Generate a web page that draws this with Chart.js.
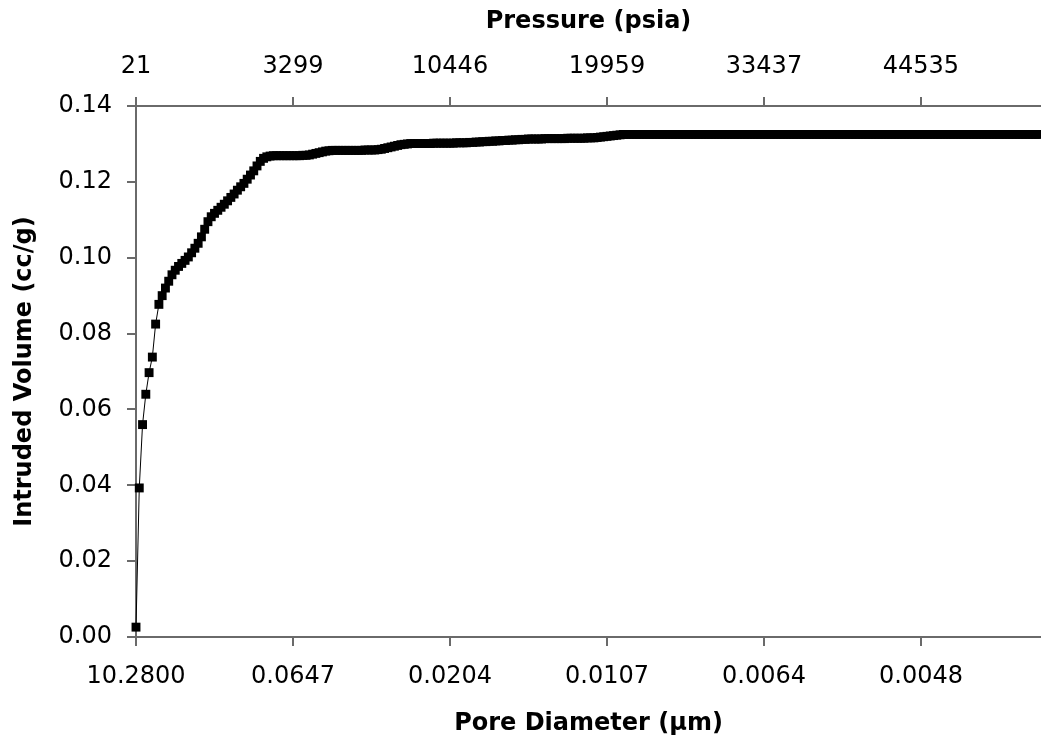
<!DOCTYPE html>
<html>
<head>
<meta charset="utf-8">
<title>Pore volume intrusion</title>
<script src="https://cdn.jsdelivr.net/npm/chart.js@4.4.0/dist/chart.umd.min.js"></script>
<style>
  html, body { margin: 0; padding: 0; background: #ffffff; overflow: hidden; }
  #wrap { width: 1041px; height: 740px; }
  canvas { display: block; }
</style>
</head>
<body>
<div id="wrap"><canvas id="poreChart" width="1041" height="740"></canvas></div>
<script>
// tick labels, one every 48 points
var diameterLabels = ['10.2800', '0.0647', '0.0204', '0.0107', '0.0064', '0.0048'];
var pressureLabels = ['21', '3299', '10446', '19959', '33437', '44535'];
var pointsPerLabel = 48;

// intruded volume (cc/g), one value per measured point
var intrudedVolume = [
    0.0026, 0.0393, 0.0560, 0.0640, 0.0697, 0.0738, 0.0825, 0.0877, 0.0900, 0.0920,
    0.0938, 0.0955, 0.0967, 0.0977, 0.0985, 0.0993, 0.1002, 0.1013, 0.1025, 0.1038,
    0.1055, 0.1075, 0.1095, 0.1108, 0.1117, 0.1125, 0.1133, 0.1141, 0.1150, 0.1159,
    0.1168, 0.1178, 0.1187, 0.1196, 0.1207, 0.1218, 0.1229, 0.1242, 0.1254, 0.1262,
    0.1266, 0.1268, 0.1269, 0.1269, 0.1269, 0.1269, 0.1269, 0.1269, 0.1269, 0.1269,
    0.1269, 0.1270, 0.1270, 0.1271, 0.1273, 0.1275, 0.1277, 0.1279, 0.1281, 0.1282,
    0.1283, 0.1283, 0.1283, 0.1283, 0.1283, 0.1283, 0.1283, 0.1283, 0.1283, 0.1283,
    0.1284, 0.1284, 0.1284, 0.1284, 0.1285, 0.1286, 0.1288, 0.1290, 0.1292, 0.1294,
    0.1296, 0.1298, 0.1299, 0.1300, 0.1301, 0.1301, 0.1301, 0.1301, 0.1301, 0.1301,
    0.1301, 0.1302, 0.1302, 0.1302, 0.1302, 0.1302, 0.1302, 0.1302, 0.1303, 0.1303,
    0.1303, 0.1303, 0.1304, 0.1304, 0.1305, 0.1305, 0.1306, 0.1306, 0.1307, 0.1307,
    0.1308, 0.1308, 0.1309, 0.1309, 0.1310, 0.1310, 0.1311, 0.1311, 0.1312, 0.1312,
    0.1313, 0.1313, 0.1313, 0.1313, 0.1313, 0.1314, 0.1314, 0.1314, 0.1314, 0.1314,
    0.1314, 0.1314, 0.1315, 0.1315, 0.1315, 0.1315, 0.1315, 0.1315, 0.1316, 0.1316,
    0.1316, 0.1317, 0.1318, 0.1319, 0.1320, 0.1321, 0.1322, 0.1323, 0.1324, 0.1325,
    0.1325, 0.1325, 0.1325, 0.1325, 0.1325, 0.1325, 0.1325, 0.1325, 0.1325, 0.1325,
    0.1325, 0.1325, 0.1325, 0.1325, 0.1325, 0.1325, 0.1325, 0.1325, 0.1325, 0.1325,
    0.1325, 0.1325, 0.1325, 0.1325, 0.1325, 0.1325, 0.1325, 0.1325, 0.1325, 0.1325,
    0.1325, 0.1325, 0.1325, 0.1325, 0.1325, 0.1325, 0.1325, 0.1325, 0.1325, 0.1325,
    0.1325, 0.1325, 0.1325, 0.1325, 0.1325, 0.1325, 0.1325, 0.1325, 0.1325, 0.1325,
    0.1325, 0.1325, 0.1325, 0.1325, 0.1325, 0.1325, 0.1325, 0.1325, 0.1325, 0.1325,
    0.1325, 0.1325, 0.1325, 0.1325, 0.1325, 0.1325, 0.1325, 0.1325, 0.1325, 0.1325,
    0.1325, 0.1325, 0.1325, 0.1325, 0.1325, 0.1325, 0.1325, 0.1325, 0.1325, 0.1325,
    0.1325, 0.1325, 0.1325, 0.1325, 0.1325, 0.1325, 0.1325, 0.1325, 0.1325, 0.1325,
    0.1325, 0.1325, 0.1325, 0.1325, 0.1325, 0.1325, 0.1325, 0.1325, 0.1325, 0.1325,
    0.1325, 0.1325, 0.1325, 0.1325, 0.1325, 0.1325, 0.1325, 0.1325, 0.1325, 0.1325,
    0.1325, 0.1325, 0.1325, 0.1325, 0.1325, 0.1325, 0.1325, 0.1325, 0.1325, 0.1325,
    0.1325, 0.1325, 0.1325, 0.1325, 0.1325, 0.1325, 0.1325
];

var axisGray = '#6a6a6a';
var tickFont = { family: 'DejaVu Sans', size: 24 };
var titleFont = { family: 'DejaVu Sans', size: 24, weight: 'bold' };

var points = intrudedVolume.map(function (v, i) { return { x: i, y: v }; });

function indexAxis(position, labels, title, titlePad) {
    return {
        type: 'linear',
        position: position,
        min: 0,
        max: 276.7,
        ticks: {
            stepSize: pointsPerLabel,
            includeBounds: false,
            autoSkip: false,
            maxRotation: 0,
            padding: 16,
            color: '#000',
            font: tickFont,
            callback: function (value) {
                if (value % pointsPerLabel !== 0) return '';
                return labels[value / pointsPerLabel];
            }
        },
        grid: { drawOnChartArea: false, tickLength: 9, color: axisGray, lineWidth: 2 },
        border: { display: true, color: axisGray, width: 2 },
        title: { display: true, text: title, color: '#000', font: titleFont, padding: titlePad },
        afterFit: function (scale) { scale.height = position === 'top' ? 106 : 103; }
    };
}

var ctx = document.getElementById('poreChart').getContext('2d');
var poreChart = new Chart(ctx, {
    type: 'line',
    data: {
        datasets: [{
            label: 'Intruded Volume',
            data: points,
            xAxisID: 'x',
            yAxisID: 'y',
            borderColor: '#000',
            borderWidth: 1,
            backgroundColor: '#000',
            pointStyle: 'rect',
            pointRadius: 6.3,
            pointBorderWidth: 0,
            pointBackgroundColor: '#000',
            fill: false,
            tension: 0
        }]
    },
    options: {
        responsive: false,
        animation: false,
        clip: false,
        layout: { padding: 0, autoPadding: false },
        plugins: { legend: { display: false }, tooltip: { enabled: false } },
        scales: {
            x: indexAxis('bottom', diameterLabels, 'Pore Diameter (\u00b5m)', { top: 0, bottom: 2 }),
            x2: indexAxis('top', pressureLabels, 'Pressure (psia)', { top: 7, bottom: 0 }),
            y: {
                position: 'left',
                min: 0,
                max: 0.14,
                ticks: {
                    stepSize: 0.02,
                    padding: 15,
                    color: '#000',
                    font: tickFont,
                    callback: function (value) { return value.toFixed(2); }
                },
                grid: { drawOnChartArea: false, tickLength: 9, color: axisGray, lineWidth: 2 },
                border: { display: true, color: axisGray, width: 2 },
                title: { display: true, text: 'Intruded Volume (cc/g)', color: '#000', font: titleFont, padding: { top: 10.6, bottom: 0 } },
                afterFit: function (scale) { scale.width = 136; }
            }
        }
    }
});
</script>
</body>
</html>
